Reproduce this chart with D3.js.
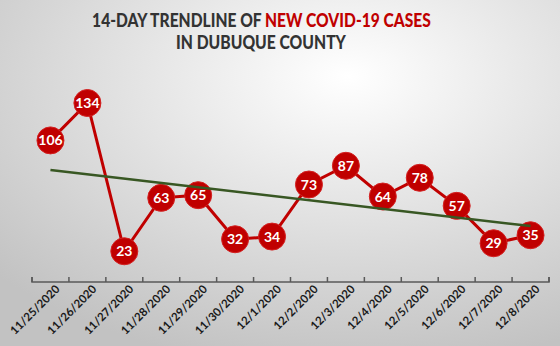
<!DOCTYPE html>
<html lang="en">
<head>
    <meta charset="UTF-8">
    <title>14-Day Trendline</title>
    <script src="https://d3js.org/d3.v7.min.js"></script>
    <style>
        body { margin: 0; }
    </style>
</head>
<body>
    <svg id="chart" width="560" height="346"></svg>
    <script>
        const dates = ["11/25/2020", "11/26/2020", "11/27/2020", "11/28/2020", "11/29/2020", "11/30/2020", "12/1/2020",
            "12/2/2020", "12/3/2020", "12/4/2020", "12/5/2020", "12/6/2020", "12/7/2020", "12/8/2020"];
        const cases = [106, 134, 23, 63, 65, 32, 34, 73, 87, 64, 78, 57, 29, 35];

        const width = 560;
        const height = 346;
        const margin = { top: 60, right: 11, bottom: 64, left: 32 };

        const svg = d3.select("#chart");

        // background gradient
        const defs = svg.append("defs");
        const grad = defs.append("radialGradient")
            .attr("id", "bg")
            .attr("cx", "62%").attr("cy", "22%").attr("r", "85%");
        grad.append("stop").attr("offset", "0%").attr("stop-color", "#ffffff");
        grad.append("stop").attr("offset", "100%").attr("stop-color", "#c2c2c2");
        svg.append("rect").attr("width", width).attr("height", height).attr("fill", "url(#bg)");

        const x = d3.scaleBand()
            .domain(dates)
            .range([margin.left, width - margin.right]);

        const y = d3.scaleLinear()
            .domain([0, 134])
            .range([height - margin.bottom, 103]);

        const cx = d => x(d) + x.bandwidth() / 2;

        // x axis
        const xAxis = svg.append("g")
            .attr("transform", `translate(0,${height - margin.bottom})`)
            .call(d3.axisBottom(x).tickSize(5).tickSizeOuter(5));
        xAxis.select(".domain").attr("stroke", "#595959").attr("stroke-width", 1.5)
            .attr("d", `M${margin.left},-5V0H${width - margin.right}V-5`);
        xAxis.selectAll(".tick line").remove();
        // boundary ticks between categories
        const bounds = dates.map(d => x(d)).concat([width - margin.right]);
        xAxis.selectAll(".bound")
            .data(bounds)
            .enter().append("line")
            .attr("x1", d => d).attr("x2", d => d)
            .attr("y1", -5).attr("y2", 0)
            .attr("stroke", "#595959").attr("stroke-width", 1.5);
        xAxis.selectAll(".tick text")
            .attr("transform", "translate(5,3) rotate(-45)")
            .attr("text-anchor", "end")
            .attr("dy", "0.6em")
            .attr("dx", "0")
            .attr("y", 0)
            .style("font-family", "Lato, sans-serif")
            .style("font-weight", "bold")
            .style("font-size", "11.5px")
            .attr("fill", "#1a1a1a");

        // case line
        const line = d3.line()
            .x((d, i) => cx(dates[i]))
            .y(d => y(d));

        svg.append("path")
            .datum(cases)
            .attr("d", line)
            .attr("fill", "none")
            .attr("stroke", "#c00000")
            .attr("stroke-width", 3);

        // points
        svg.append("g").selectAll("circle")
            .data(cases)
            .enter().append("circle")
            .attr("cx", (d, i) => cx(dates[i]))
            .attr("cy", d => y(d))
            .attr("r", 13.5)
            .attr("fill", "#c00000")
            .attr("stroke", "#d42020")
            .attr("stroke-width", 1);

        // linear trendline (least squares)
        const n = cases.length;
        const mx = d3.mean(cases, (d, i) => i);
        const my = d3.mean(cases);
        const sxy = d3.sum(cases, (d, i) => (i - mx) * (d - my));
        const sxx = d3.sum(cases, (d, i) => (i - mx) * (i - mx));
        const slope = sxy / sxx;
        const icpt = my - slope * mx;
        const trend = [0, n - 1].map(i => ({ x: cx(dates[i]), y: y(icpt + slope * i) }));

        svg.append("path")
            .datum(trend)
            .attr("d", d3.line().x(d => d.x).y(d => d.y))
            .attr("stroke", "#385723")
            .attr("stroke-width", 2.5)
            .attr("fill", "none");

        svg.append("g").selectAll("text")
            .data(cases)
            .enter().append("text")
            .attr("x", (d, i) => cx(dates[i]))
            .attr("y", d => y(d))
            .attr("dy", "0.36em")
            .attr("text-anchor", "middle")
            .style("font-family", "Lato, sans-serif")
            .style("font-weight", "bold")
            .style("font-size", "14px")
            .attr("fill", "#ffffff")
            .text(d => d);

        // title, squeezed horizontally to the reference width
        function fitText(sel, cxPos, target) {
            const w = sel.node().getComputedTextLength();
            const k = target / w;
            sel.attr("x", 0).attr("transform", `translate(${cxPos},0) scale(${k},1)`);
        }

        const title = svg.append("text")
            .attr("y", 27)
            .attr("text-anchor", "middle")
            .style("font-family", "Lato, sans-serif")
            .style("font-weight", "900")
            .style("font-size", "19px")
            .attr("fill", "#333333");
        title.append("tspan").text("14-DAY TRENDLINE OF ");
        title.append("tspan").attr("fill", "#c00000").text("NEW COVID-19 CASES");
        fitText(title, 261.5, 339);

        const title2 = svg.append("text")
            .attr("y", 49)
            .attr("text-anchor", "middle")
            .style("font-family", "Lato, sans-serif")
            .style("font-weight", "900")
            .style("font-size", "19px")
            .attr("fill", "#333333")
            .text("IN DUBUQUE COUNTY");
        fitText(title2, 261, 170);
    </script>
</body>
</html>
